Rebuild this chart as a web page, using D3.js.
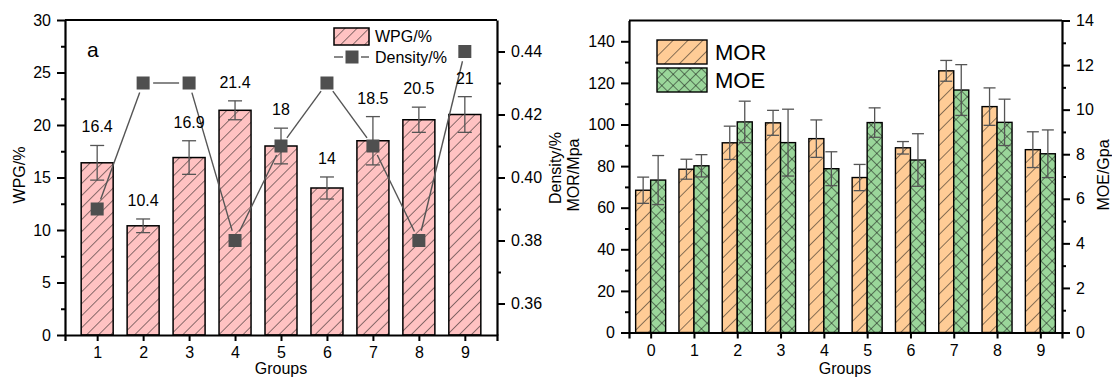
<!DOCTYPE html>
<html>
<head>
<meta charset="utf-8">
<script src="https://cdn.jsdelivr.net/npm/d3@7"></script>
<style>
  body { margin: 0; background: #fff; }
  text { font-family: Arial, "Liberation Sans", sans-serif; fill: #000; }
</style>
</head>
<body>
<div id="chart"></div>
<script>
const width = 1112, height = 378;

// ---- data: panel a ----
const groupsA = [1, 2, 3, 4, 5, 6, 7, 8, 9];
const wpg = [16.4, 10.4, 16.9, 21.4, 18, 14, 18.5, 20.5, 21];
const wpgErr = [1.65, 0.65, 1.6, 0.9, 1.7, 1.05, 2.3, 1.2, 1.7];
const density = [0.39, 0.43, 0.43, 0.38, 0.41, 0.43, 0.41, 0.38, 0.44];

// ---- data: panel b ----
const groupsB = [0, 1, 2, 3, 4, 5, 6, 7, 8, 9];
const mor = [68.4, 78.5, 91.2, 100.8, 93.2, 74.5, 88.8, 125.8, 108.6, 87.9];
const morErr = [6.3, 4.8, 8, 6, 9, 6.3, 3, 5, 9, 8.6];
const moe = [6.84, 7.48, 9.45, 8.52, 7.35, 9.42, 7.74, 10.88, 9.43, 8.02];
const moeErr = [1.1, 0.5, 0.93, 1.5, 0.76, 0.66, 1.18, 1.14, 1.04, 1.07];

const svg = d3.select("#chart")
	.append("svg")
	.attr("width", width)
	.attr("height", height);

// ================ patterns ==================
const defs = svg.append("defs");
function hatch(id, fill, size, cross) {
	let p = defs.append("pattern")
		.attr("id", id)
		.attr("patternUnits", "userSpaceOnUse")
		.attr("width", size)
		.attr("height", size)
		.attr("patternTransform", "rotate(45)");
	p.append("rect").attr("width", size).attr("height", size).attr("fill", fill);
	p.append("line").attr("x1", 0).attr("y1", 0).attr("x2", 0).attr("y2", size)
		.attr("stroke", "#111").attr("stroke-width", 1);
	if (cross) {
		p.append("line").attr("x1", 0).attr("y1", 0).attr("x2", size).attr("y2", 0)
			.attr("stroke", "#111").attr("stroke-width", 1);
	}
}
hatch("pinkHatch", "#ffc2c2", 8.5, false);
hatch("orangeHatch", "#ffcc96", 10.5, false);
hatch("greenHatch", "#9ad69a", 8, true);

// helper: axis frame styling
function styleAxis(g) {
	g.selectAll(".domain").attr("stroke", "#000").attr("stroke-width", 2.2);
	g.selectAll(".tick line").attr("stroke", "#000").attr("stroke-width", 2);
	g.selectAll("text").style("font-size", "16px").attr("fill", "#000");
}
function minorTicks(g) {
	g.selectAll(".tick line").attr("stroke", "#000").attr("stroke-width", 2);
	g.selectAll(".domain").remove();
}

// ================ panel a ==================
const A = { left: 65, right: 497, top: 20, bottom: 335 };
const xA = d3.scaleLinear().domain([0.3, 9.7]).range([A.left, A.right]);
const yA = d3.scaleLinear().domain([0, 30]).range([A.bottom, A.top]);
const yD = d3.scaleLinear().domain([0.35, 0.45]).range([A.bottom, A.top]);
const barWA = 32;

const gA = svg.append("g");

gA.selectAll(".barA")
	.data(groupsA)
	.enter()
	.append("rect")
	.classed("barA", true)
	.attr("x", (d) => xA(d) - barWA / 2)
	.attr("y", (d, i) => yA(wpg[i]))
	.attr("width", barWA)
	.attr("height", (d, i) => yA(0) - yA(wpg[i]))
	.attr("fill", "url(#pinkHatch)")
	.attr("stroke", "#000")
	.attr("stroke-width", 1.5);

function errorBars(g, xs, vals, errs, x, y, cap, off) {
	let eb = g.selectAll(null)
		.data(xs)
		.enter()
		.append("g")
		.attr("stroke", "#555")
		.attr("stroke-width", 1.3);
	eb.append("line")
		.attr("x1", (d) => x(d) + off).attr("x2", (d) => x(d) + off)
		.attr("y1", (d, i) => y(vals[i] - errs[i]))
		.attr("y2", (d, i) => y(vals[i] + errs[i]));
	eb.append("line")
		.attr("x1", (d) => x(d) + off - cap).attr("x2", (d) => x(d) + off + cap)
		.attr("y1", (d, i) => y(vals[i] + errs[i]))
		.attr("y2", (d, i) => y(vals[i] + errs[i]));
	eb.append("line")
		.attr("x1", (d) => x(d) + off - cap).attr("x2", (d) => x(d) + off + cap)
		.attr("y1", (d, i) => y(vals[i] - errs[i]))
		.attr("y2", (d, i) => y(vals[i] - errs[i]));
}
errorBars(gA, groupsA, wpg, wpgErr, xA, yA, 7, 0);

// density line with gaps around markers
const densPts = groupsA.map((d, i) => [xA(d), yD(density[i])]);
const gap = 10;
for (let i = 0; i < densPts.length - 1; i++) {
	let [x1, y1] = densPts[i], [x2, y2] = densPts[i + 1];
	let len = Math.hypot(x2 - x1, y2 - y1);
	let ux = (x2 - x1) / len, uy = (y2 - y1) / len;
	gA.append("line")
		.attr("x1", x1 + ux * gap).attr("y1", y1 + uy * gap)
		.attr("x2", x2 - ux * gap).attr("y2", y2 - uy * gap)
		.attr("stroke", "#555")
		.attr("stroke-width", 1.4);
}
gA.selectAll(".dens")
	.data(groupsA)
	.enter()
	.append("rect")
	.classed("dens", true)
	.attr("x", (d) => xA(d) - 6.5)
	.attr("y", (d, i) => yD(density[i]) - 6.5)
	.attr("width", 13)
	.attr("height", 13)
	.attr("fill", "#4f4f4f");

gA.selectAll(".lblA")
	.data(groupsA)
	.enter()
	.append("text")
	.classed("lblA", true)
	.attr("x", (d) => xA(d))
	.attr("y", (d, i) => yA(wpg[i] + wpgErr[i]) - 13)
	.attr("text-anchor", "middle")
	.style("font-size", "16px")
	.text((d, i) => wpg[i]);

// axes a
let axA = gA.append("g").attr("transform", `translate(0,${A.bottom})`)
	.call(d3.axisBottom(xA).tickValues(groupsA).tickSize(6).tickPadding(6).tickFormat(d3.format("d")));
styleAxis(axA);
let ayA = gA.append("g").attr("transform", `translate(${A.left},0)`)
	.call(d3.axisLeft(yA).tickValues(d3.range(0, 31, 5)).tickSize(8).tickPadding(6).tickSizeOuter(0));
styleAxis(ayA);
gA.append("g").attr("transform", `translate(${A.left},0)`)
	.call(d3.axisLeft(yA).tickValues(d3.range(2.5, 30, 5)).tickSize(4).tickFormat(""))
	.call(minorTicks);
let ayD = gA.append("g").attr("transform", `translate(${A.right},0)`)
	.call(d3.axisRight(yD).tickValues([0.36, 0.38, 0.40, 0.42, 0.44]).tickSize(8).tickPadding(6).tickSizeOuter(0).tickFormat(d3.format(".2f")));
styleAxis(ayD);
gA.append("g").attr("transform", `translate(${A.right},0)`)
	.call(d3.axisRight(yD).tickValues([0.37, 0.39, 0.41, 0.43]).tickSize(4).tickFormat(""))
	.call(minorTicks);
gA.append("line").attr("x1", A.left).attr("x2", A.right).attr("y1", A.top).attr("y2", A.top)
	.attr("stroke", "#000").attr("stroke-width", 2.2);

gA.append("text").attr("x", 87).attr("y", 57).style("font-size", "21px").text("a");
gA.append("text").attr("transform", `translate(25,175) rotate(-90)`)
	.attr("text-anchor", "middle").style("font-size", "16px").text("WPG/%");
gA.append("text").attr("transform", `translate(561,168) rotate(-90)`)
	.attr("text-anchor", "middle").style("font-size", "16px").text("Density/%");
gA.append("text").attr("x", 281).attr("y", 374)
	.attr("text-anchor", "middle").style("font-size", "16px").text("Groups");

// legend a
gA.append("rect").attr("x", 334).attr("y", 28).attr("width", 35).attr("height", 17)
	.attr("fill", "url(#pinkHatch)").attr("stroke", "#000").attr("stroke-width", 1.5);
gA.append("text").attr("x", 375).attr("y", 42).style("font-size", "16px").text("WPG/%");
gA.append("line").attr("x1", 334).attr("x2", 343).attr("y1", 57).attr("y2", 57)
	.attr("stroke", "#555").attr("stroke-width", 1.4);
gA.append("line").attr("x1", 361).attr("x2", 369).attr("y1", 57).attr("y2", 57)
	.attr("stroke", "#555").attr("stroke-width", 1.4);
gA.append("rect").attr("x", 345.5).attr("y", 50.5).attr("width", 13).attr("height", 13).attr("fill", "#4f4f4f");
gA.append("text").attr("x", 375).attr("y", 63).style("font-size", "16px").text("Density/%");

// ================ panel b ==================
const B = { left: 629, right: 1062, top: 20.5, bottom: 332.5 };
const xB = d3.scaleLinear().domain([-0.5, 9.5]).range([B.left, B.right]);
const yB = d3.scaleLinear().domain([0, 150]).range([B.bottom, B.top]);
const yE = d3.scaleLinear().domain([0, 14]).range([B.bottom, B.top]);
const barWB = 15;

const gB = svg.append("g");

gB.selectAll(".mor")
	.data(groupsB)
	.enter()
	.append("rect")
	.classed("mor", true)
	.attr("x", (d) => xB(d) - barWB)
	.attr("y", (d, i) => yB(mor[i]))
	.attr("width", barWB)
	.attr("height", (d, i) => yB(0) - yB(mor[i]))
	.attr("fill", "url(#orangeHatch)")
	.attr("stroke", "#000")
	.attr("stroke-width", 1.4);
gB.selectAll(".moe")
	.data(groupsB)
	.enter()
	.append("rect")
	.classed("moe", true)
	.attr("x", (d) => xB(d))
	.attr("y", (d, i) => yE(moe[i]))
	.attr("width", barWB)
	.attr("height", (d, i) => yE(0) - yE(moe[i]))
	.attr("fill", "url(#greenHatch)")
	.attr("stroke", "#000")
	.attr("stroke-width", 1.4);

errorBars(gB, groupsB, mor, morErr, xB, yB, 6, -barWB / 2);
errorBars(gB, groupsB, moe, moeErr, xB, yE, 6, barWB / 2);

let axB = gB.append("g").attr("transform", `translate(0,${B.bottom})`)
	.call(d3.axisBottom(xB).tickValues(groupsB).tickSize(6).tickPadding(6).tickFormat(d3.format("d")));
styleAxis(axB);
let ayB = gB.append("g").attr("transform", `translate(${B.left},0)`)
	.call(d3.axisLeft(yB).tickValues(d3.range(0, 141, 20)).tickSize(8).tickPadding(6).tickSizeOuter(0));
styleAxis(ayB);
gB.append("g").attr("transform", `translate(${B.left},0)`)
	.call(d3.axisLeft(yB).tickValues(d3.range(10, 150, 20)).tickSize(4).tickFormat(""))
	.call(minorTicks);
let ayE = gB.append("g").attr("transform", `translate(${B.right},0)`)
	.call(d3.axisRight(yE).tickValues(d3.range(0, 15, 2)).tickSize(8).tickPadding(6).tickSizeOuter(0));
styleAxis(ayE);
gB.append("g").attr("transform", `translate(${B.right},0)`)
	.call(d3.axisRight(yE).tickValues(d3.range(1, 14, 2)).tickSize(4).tickFormat(""))
	.call(minorTicks);
gB.append("line").attr("x1", B.left).attr("x2", B.right).attr("y1", B.top).attr("y2", B.top)
	.attr("stroke", "#000").attr("stroke-width", 2.2);

gB.append("text").attr("transform", `translate(579,175) rotate(-90)`)
	.attr("text-anchor", "middle").style("font-size", "16px").text("MOR/Mpa");
gB.append("text").attr("transform", `translate(1109,175) rotate(-90)`)
	.attr("text-anchor", "middle").style("font-size", "16px").text("MOE/Gpa");
gB.append("text").attr("x", 845).attr("y", 374)
	.attr("text-anchor", "middle").style("font-size", "16px").text("Groups");

// legend b
gB.append("rect").attr("x", 657).attr("y", 40).attr("width", 50).attr("height", 24)
	.attr("fill", "url(#orangeHatch)").attr("stroke", "#000").attr("stroke-width", 1.4);
gB.append("text").attr("x", 715).attr("y", 60).style("font-size", "22px").text("MOR");
gB.append("rect").attr("x", 657).attr("y", 68).attr("width", 50).attr("height", 24)
	.attr("fill", "url(#greenHatch)").attr("stroke", "#000").attr("stroke-width", 1.4);
gB.append("text").attr("x", 715).attr("y", 88).style("font-size", "22px").text("MOE");
</script>
</body>
</html>
